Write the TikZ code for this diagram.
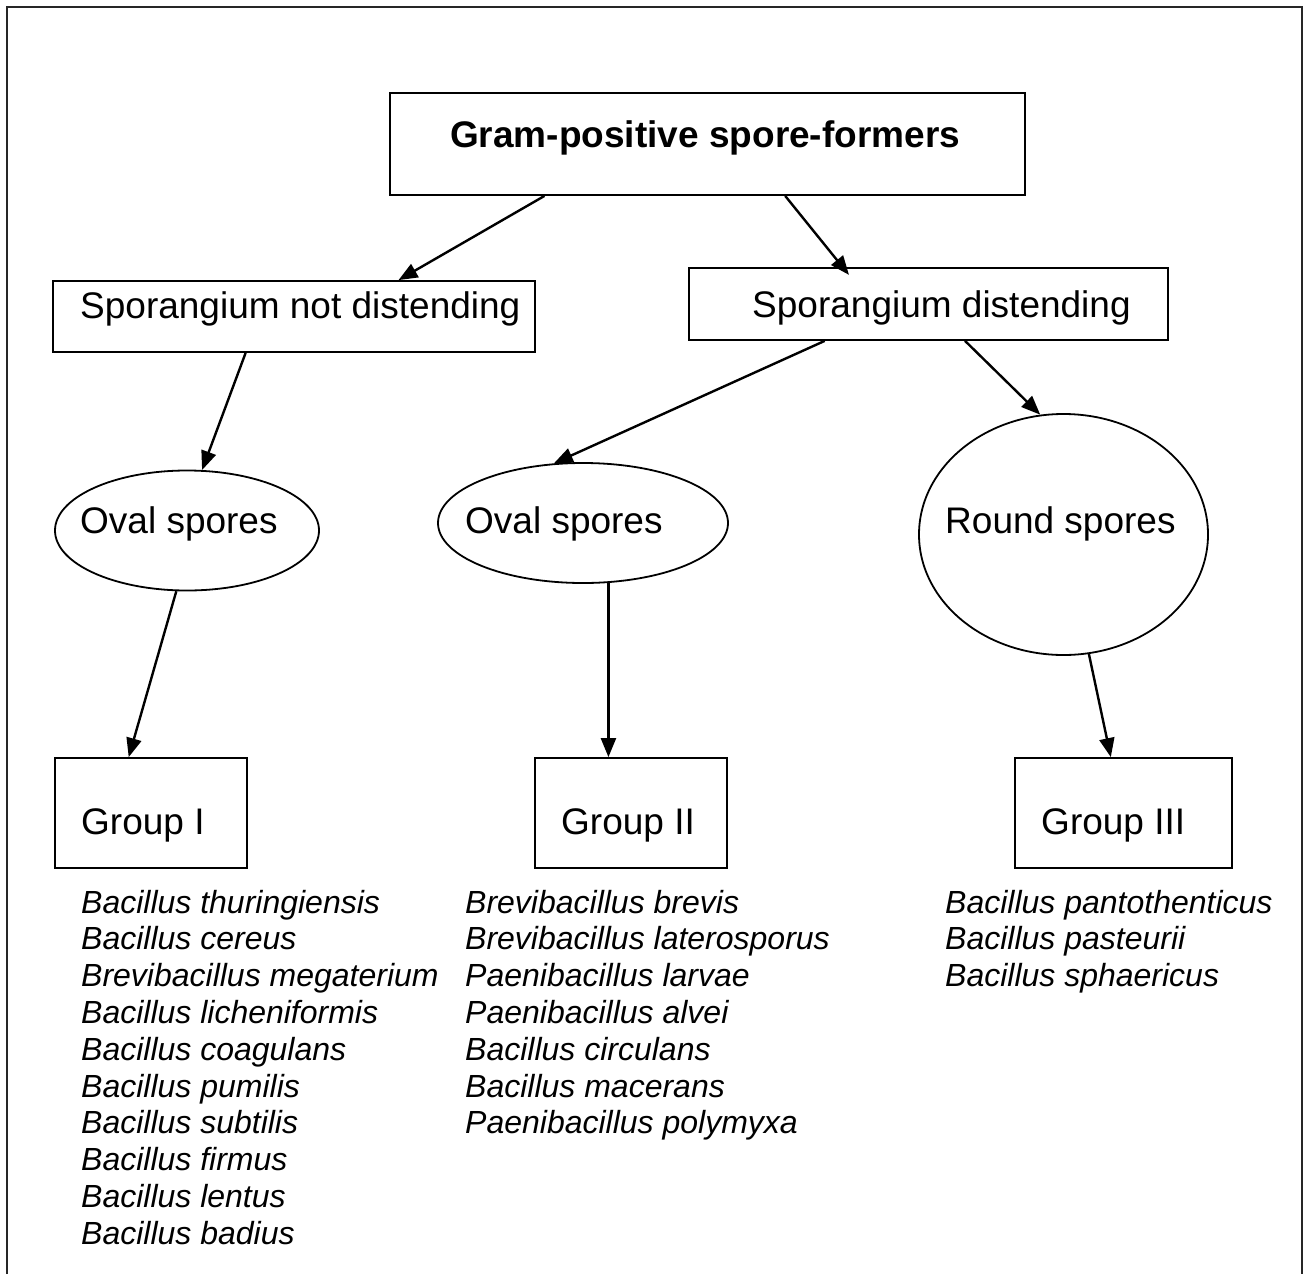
\documentclass[tikz,border=0pt]{standalone}
\usepackage{fontspec}
\setmainfont{Liberation Sans}
\usetikzlibrary{arrows.meta,shapes.geometric,calc}
\begin{document}
\begin{tikzpicture}[x=1pt,y=-1pt,
  boxnode/.style={draw=black,line width=1.8pt,rectangle,inner sep=0pt},
  ovalnode/.style={draw=black,line width=1.8pt,ellipse,inner sep=0pt},
  lbl/.style={anchor=base west,inner sep=0pt,font=\fontsize{37}{44}\selectfont},
  ttl/.style={anchor=base west,inner sep=0pt,font=\fontsize{37}{44}\selectfont\bfseries},
  itl/.style={anchor=base west,inner sep=0pt,font=\fontsize{32}{37}\selectfont\itshape},
  arr/.style={line width=2.4pt,-{Triangle[length=19pt,width=15pt]}}]
\useasboundingbox (0,0) rectangle (1305,1274);
% frame
\coordinate (fA) at (7,1274);
\coordinate (fB) at (7,7);
\coordinate (fC) at (1302,7);
\coordinate (fD) at (1302,1274);
\draw[line width=2.6pt,black!85] (fA) -- (fB) -- (fC) -- (fD);
% boxes
\node[boxnode,minimum width=635pt,minimum height=102pt] (top) at (707.5,144) {};
\node[boxnode,minimum width=482pt,minimum height=71pt] (lbox) at (294,316.5) {};
\node[boxnode,minimum width=479pt,minimum height=72pt] (rbox) at (928.5,304) {};
\node[ovalnode,minimum width=264pt,minimum height=120pt] (ovl) at (187,530.5) {};
\node[ovalnode,minimum width=290pt,minimum height=120pt] (ovm) at (583,523) {};
\node[ovalnode,minimum width=289pt,minimum height=241pt] (rnd) at (1063.5,534.5) {};
\node[boxnode,minimum width=192pt,minimum height=110pt] (g1) at (151,813) {};
\node[boxnode,minimum width=192pt,minimum height=110pt] (g2) at (631,813) {};
\node[boxnode,minimum width=217pt,minimum height=110pt] (g3) at (1123.5,813) {};
% texts
\node[ttl] (ttop) at (450,147) {Gram-positive spore-formers};
\node[lbl] (tlbox) at (80,318) {Sporangium not distending};
\node[lbl] (trbox) at (752,317) {Sporangium distending};
\node[lbl] (tovl) at (80,533) {Oval spores};
\node[lbl] (tovm) at (465,533) {Oval spores};
\node[lbl] (trnd) at (945,533) {Round spores};
\node[lbl] (tg1) at (81,834) {Group I};
\node[lbl] (tg2) at (561,834) {Group II};
\node[lbl] (tg3) at (1041,834) {Group III};
% lists
\foreach \t [count=\i] in {Bacillus thuringiensis,Bacillus cereus,Brevibacillus megaterium,Bacillus licheniformis,Bacillus coagulans,Bacillus pumilis,Bacillus subtilis,Bacillus firmus,Bacillus lentus,Bacillus badius}
  \node[itl] (la\i) at (81,{913+36.8*(\i-1)}) {\t};
\foreach \t [count=\i] in {Brevibacillus brevis,Brevibacillus laterosporus,Paenibacillus larvae,Paenibacillus alvei,Bacillus circulans,Bacillus macerans,Paenibacillus polymyxa}
  \node[itl] (lb\i) at (465,{913+36.8*(\i-1)}) {\t};
\foreach \t [count=\i] in {Bacillus pantothenticus,Bacillus pasteurii,Bacillus sphaericus}
  \node[itl] (lc\i) at (945,{913+36.8*(\i-1)}) {\t};
% connectors
\draw[arr] ($(top.south west)!0.244!(top.south east)$) -- ($(lbox.north west)!0.716!(lbox.north east)$);
\draw[arr,shorten >=-10pt] ($(top.south west)!0.622!(top.south east)$) -- ($(rbox.north west)!0.3215!(rbox.north east)$);
\draw[arr] ($(lbox.south west)!0.40!(lbox.south east)$) -- (ovl.76);
\draw[arr] ($(rbox.south west)!0.284!(rbox.south east)$) -- (ovm.116.6);
\draw[arr] ($(rbox.south west)!0.576!(rbox.south east)$) -- (rnd.101.7);
\draw[arr] (ovl.-100) -- ($(g1.north west)!0.385!(g1.north east)$);
\draw[arr] (ovm.-67.4) -- (ovm.-67.4 |- g2.north);
\draw[arr] (rnd.-78.7) -- ($(g3.north west)!0.442!(g3.north east)$);
\end{tikzpicture}
\end{document}
